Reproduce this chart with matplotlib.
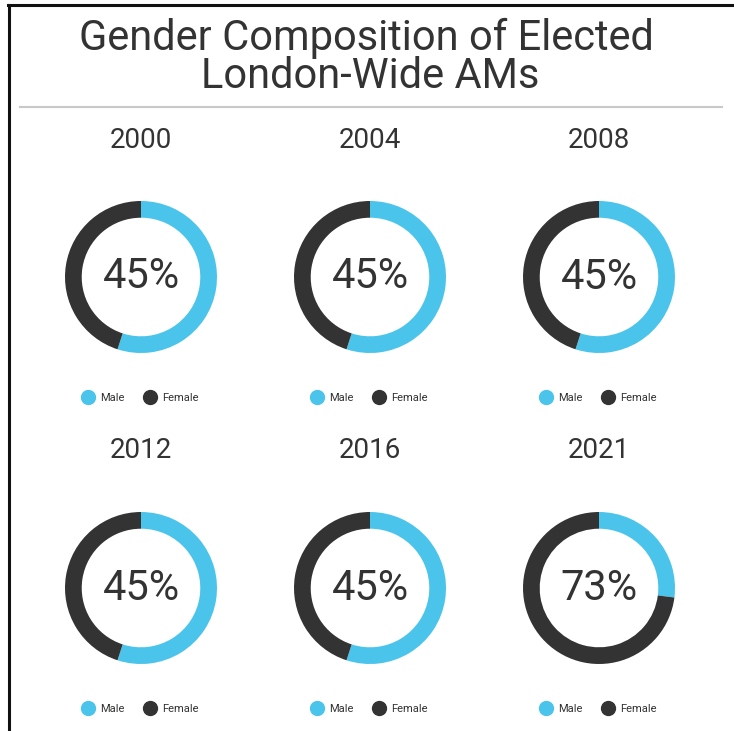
import matplotlib.pyplot as plt
from matplotlib.lines import Line2D

years = ['2000', '2004', '2008', '2012', '2016', '2021']
male_pct = [55, 55, 55, 55, 55, 27]
female_pct = [45, 45, 45, 45, 45, 73]
labels = ['Male', 'Female']

blue = '#4bc4ec'
dark = '#333333'
W, H = 734, 731

fig = plt.figure(figsize=(W / 100, H / 100), dpi=100)
fig.patch.set_facecolor('white')

def fx(x):
    return x / W

def fy(y):
    return 1 - y / H

roboto = ['Roboto', 'DejaVu Sans']

# frame and title rule
fig.add_artist(Line2D([fx(9), fx(9)], [fy(5), 0], color='#111111', lw=2.2))
fig.add_artist(Line2D([fx(8), 1], [fy(5), fy(5)], color='#111111', lw=2.2))
fig.add_artist(Line2D([fx(20), fx(722)], [fy(107), fy(107)], color='#c8c8c8', lw=1.5))

fig.text(fx(366), fy(38), 'Gender Composition of Elected', ha='center', va='center',
         fontsize=30, color='#333333', family=roboto)
fig.text(fx(370), fy(77), 'London-Wide AMs', ha='center', va='center',
         fontsize=30, color='#333333', family=roboto)

centers_x = [141, 370, 599]
centers_y = [277, 588]
R = 76

for i, yr in enumerate(years):
    cx = centers_x[i % 3]
    cy = centers_y[i // 3]
    ax = fig.add_axes([fx(cx - R), fy(cy + R), 2 * R / W, 2 * R / H])
    ax.pie([male_pct[i], female_pct[i]], colors=[blue, dark], startangle=90,
           counterclock=False, radius=1, wedgeprops=dict(width=0.22, linewidth=0))
    ax.set_xlim(-1, 1)
    ax.set_ylim(-1, 1)
    ax.set_aspect('equal')
    ax.axis('off')
    ax.text(0, 0, f'{female_pct[i]}%', ha='center', va='center', fontsize=30,
            color='#333333', family=roboto)
    fig.text(fx(cx), fy(cy - 137), yr, ha='center', va='center', fontsize=20,
             color='#333333', family=roboto)
    handles = [Line2D([], [], marker='o', ls='', markersize=10, color=c)
               for c in [blue, dark]]
    fig.legend(handles, labels, loc='center', bbox_to_anchor=(fx(cx - 3), fy(cy + 121)),
               ncol=2, frameon=False, handletextpad=0.1, columnspacing=1.3,
               labelcolor='#333333', prop={'family': roboto, 'size': 8})

fig.savefig('out.png', dpi=100, facecolor='white')
